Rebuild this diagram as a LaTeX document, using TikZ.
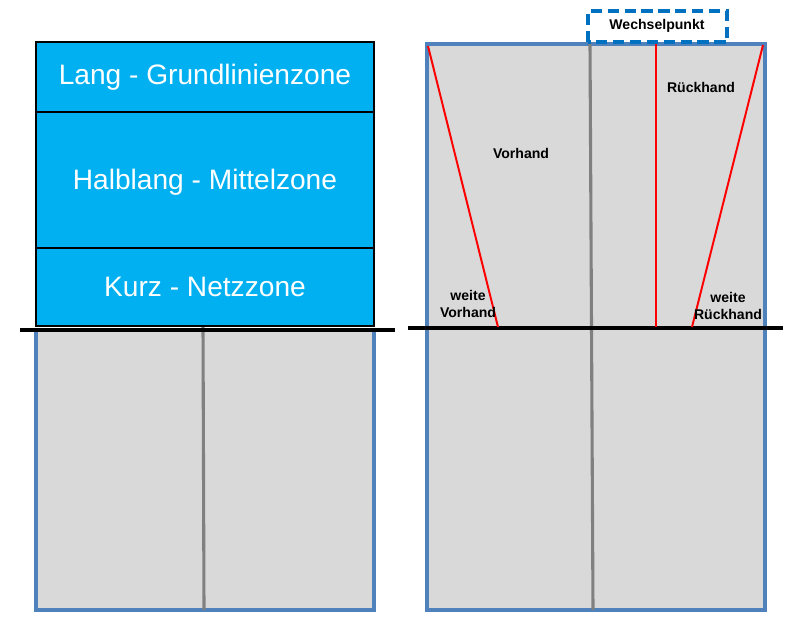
\documentclass[tikz,border=0pt]{standalone}
\usepackage{fontspec}
\setmainfont{Liberation Sans}
\usepackage{tikz}
\usetikzlibrary{positioning, calc}
\definecolor{zoneblue}{RGB}{0, 176, 240}
\definecolor{courtgray}{RGB}{217, 217, 217}
\definecolor{courtblue}{RGB}{79, 129, 189}
\definecolor{swapblue}{RGB}{0, 112, 192}
\definecolor{linegray}{RGB}{128, 128, 128}

\begin{document}
\begin{tikzpicture}[
    x=0.025cm, y=-0.025cm,
    court/.style={draw=courtblue, fill=courtgray, line width=2.4pt},
    zone/.style={draw=black, fill=zoneblue, line width=0.8pt},
    zonetext/.style={text=white, font=\fontsize{20}{24}\selectfont},
    midline/.style={draw=linegray, line width=2.2pt},
    netline/.style={draw=black, line width=3pt},
    hand/.style={draw=red, line width=1.4pt},
    label/.style={font=\fontsize{10}{12.5}\selectfont\bfseries, align=center, inner sep=1pt},
]
\useasboundingbox (0,0) rectangle (800,640);

% Left court: zones
\draw[court] (36,330) rectangle (374,610);
\draw[midline] (203,325) -- (204,610);
\draw[zone] (36,42) rectangle (374,112);
\draw[zone] (36,112) rectangle (374,248);
\draw[zone] (36,248) rectangle (374,326);
\node[zonetext] (lang) at (205,77) {Lang - Grundlinienzone};
\node[zonetext] (halb) at (205,182) {Halblang - Mittelzone};
\node[zonetext] (kurz) at (205,287) {Kurz - Netzzone};
\draw[netline] (20,330) -- (395,330);

% Right court: Vorhand / Rueckhand
\draw[court] (427,44) rectangle (765,610);
\draw[midline] (590,44) -- (593,610);
\draw[netline] (408,328) -- (783,328);
\draw[hand] (428,46) -- (498,327);
\draw[hand] (656,44) -- (656,327);
\draw[hand] (763,45) -- (692,327);
\node[label] (vorhand) at (521,153) {Vorhand};
\node[label] (rueckhand) at (701,87) {Rückhand};
\node[label] (weitevor) at (468,304) {weite\\Vorhand};
\node[label] (weiterueck) at (728,306) {weite\\Rückhand};

% Wechselpunkt
\draw[swapblue, line width=2.2pt, dash pattern=on 8pt off 4pt] (588,42) rectangle (727,11);
\node[label] (wechsel) at (657,26) {Wechselpunkt};

\end{tikzpicture}
\end{document}
